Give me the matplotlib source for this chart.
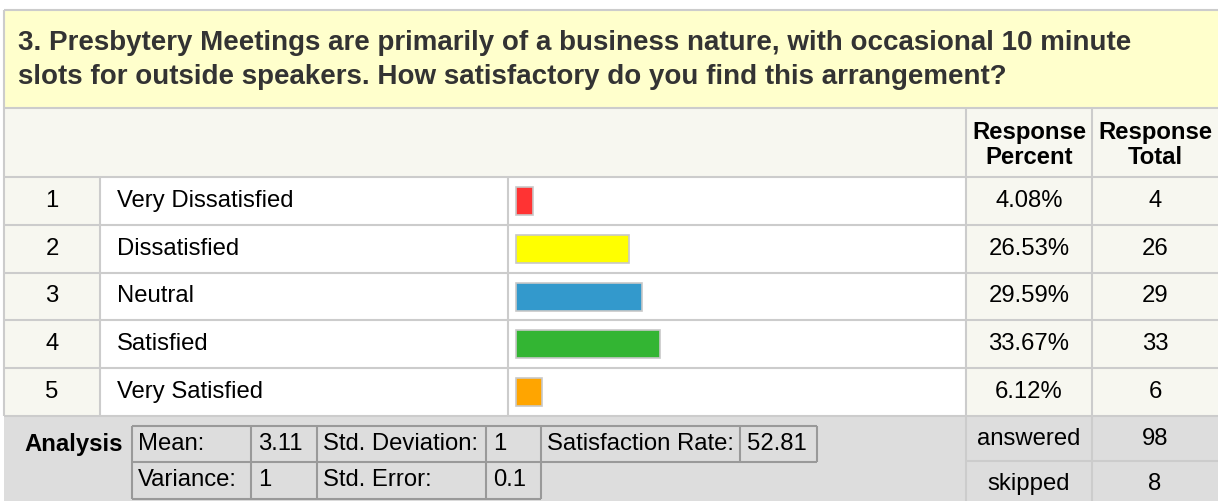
import matplotlib
matplotlib.use("Agg")
import matplotlib.pyplot as plt
from matplotlib.patches import Rectangle

# Survey question data
question = ("3. Presbytery Meetings are primarily of a business nature, with occasional 10 minute\n"
            "slots for outside speakers. How satisfactory do you find this arrangement?")
choices = ["Very Dissatisfied", "Dissatisfied", "Neutral", "Satisfied", "Very Satisfied"]
percents = [4.08, 26.53, 29.59, 33.67, 6.12]
totals = [4, 26, 29, 33, 6]
bar_colors = ["#ff3333", "#ffff00", "#3399cc", "#33b533", "#ffa500"]
answered = 98
skipped = 8
stats_row1 = [("Mean:", "3.11"), ("Std. Deviation:", "1"), ("Satisfaction Rate:", "52.81")]
stats_row2 = [("Variance:", "1"), ("Std. Error:", "0.1")]

# Layout in pixels
W, H = 1218, 501
top, left, right = 10, 4, 1218
title_bot = 108
head_bot = 177
row_h = 47.8
ana_top = head_bot + row_h * len(choices)
cols = [left, 100, 508, 966, 1092, right]
bar_x0 = 516
px_per_pct = 4.27

light = "#f7f7f0"
grid = "#cccccc"
font = "Liberation Sans"
fs = 17.2

fig = plt.figure(figsize=(W / 100, H / 100), dpi=100)
ax = fig.add_axes([0, 0, 1, 1])
ax.set_xlim(0, W)
ax.set_ylim(H, 0)
ax.axis("off")


def box(x0, y0, x1, y1, color):
    ax.add_patch(Rectangle((x0, y0), x1 - x0, y1 - y0, facecolor=color,
                           edgecolor="none", zorder=0))


# backgrounds
box(left, top, right, title_bot, "#ffffcc")
box(left, title_bot, right, head_bot, light)
box(cols[0], head_bot, cols[1], ana_top, light)
box(cols[1], head_bot, cols[3], ana_top, "white")
box(cols[3], head_bot, right, ana_top, light)
box(left, ana_top, right, H, "#dddddd")

# title
ax.text(18, 60, question, fontsize=20, fontweight="bold", color="#333333",
        family=font, va="center", ha="left", linespacing=1.4)

# header
ax.text((cols[3] + cols[4]) / 2, 145, "Response\nPercent", fontsize=fs,
        fontweight="bold", family=font, ha="center", va="center", linespacing=1.08)
ax.text((cols[4] + cols[5]) / 2, 145, "Response\nTotal", fontsize=fs,
        fontweight="bold", family=font, ha="center", va="center", linespacing=1.08)

# grid lines
lw = 1.5
ax.hlines(top, left, right, color=grid, lw=lw)
ax.hlines(title_bot, left, right, color=grid, lw=lw)
ax.vlines(left, top, ana_top, color=grid, lw=lw)
ax.vlines(cols[3:5], title_bot, H, color=grid, lw=lw)
ax.vlines(cols[1:3], head_bot, ana_top, color=grid, lw=lw)
row_edges = [head_bot + row_h * i for i in range(len(choices) + 1)]
ax.hlines(row_edges, left, right, color=grid, lw=lw)
ax.hlines(ana_top + 45, cols[3], right, color=grid, lw=lw)

# rows
centers = [head_bot + row_h * (i + 0.5) for i in range(len(choices))]
for i, (c, p, t) in enumerate(zip(choices, percents, totals)):
    y = centers[i]
    ax.text((cols[0] + cols[1]) / 2, y, str(i + 1), fontsize=fs, family=font,
            ha="center", va="center")
    ax.text(117, y, c, fontsize=fs, family=font, ha="left", va="center")
    ax.text((cols[3] + cols[4]) / 2, y, f"{p:.2f}%", fontsize=fs, family=font,
            ha="center", va="center")
    ax.text((cols[4] + cols[5]) / 2, y, str(t), fontsize=fs, family=font,
            ha="center", va="center")

ax.barh(centers, [p * px_per_pct for p in percents], left=bar_x0, height=28,
        color=bar_colors, edgecolor="#c8c8c8", linewidth=1.2, zorder=3)

# analysis block
ax.text(74, 444, "Analysis", fontsize=fs, fontweight="bold", family=font,
        ha="center", va="center")
r1 = [132, 251, 317, 486, 541, 740, 817]
r2 = r1[:5]
y0, y1, y2 = 426, 462, 499
tl = "#999999"
ax.hlines([y0, y1], r1[0], r1[-1], color=tl, lw=lw)
ax.hlines(y2, r2[0], r2[-1], color=tl, lw=lw)
ax.vlines(r2, y0, y2, color=tl, lw=lw)
ax.vlines(r1[5:], y0, y1, color=tl, lw=lw)
for k, (lab, val) in enumerate(stats_row1):
    ax.text(r1[2 * k] + 6, (y0 + y1) / 2, lab, fontsize=fs, family=font,
            ha="left", va="center")
    ax.text(r1[2 * k + 1] + 7, (y0 + y1) / 2, val, fontsize=fs, family=font,
            ha="left", va="center")
for k, (lab, val) in enumerate(stats_row2):
    ax.text(r2[2 * k] + 6, (y1 + y2) / 2, lab, fontsize=fs, family=font,
            ha="left", va="center")
    ax.text(r2[2 * k + 1] + 7, (y1 + y2) / 2, val, fontsize=fs, family=font,
            ha="left", va="center")

ax.text((cols[3] + cols[4]) / 2, 439, "answered", fontsize=fs, family=font,
        ha="center", va="center")
ax.text((cols[4] + cols[5]) / 2, 439, str(answered), fontsize=fs, family=font,
        ha="center", va="center")
ax.text((cols[3] + cols[4]) / 2, 484, "skipped", fontsize=fs, family=font,
        ha="center", va="center")
ax.text((cols[4] + cols[5]) / 2, 484, str(skipped), fontsize=fs, family=font,
        ha="center", va="center")

fig.savefig("out.png", dpi=100)
